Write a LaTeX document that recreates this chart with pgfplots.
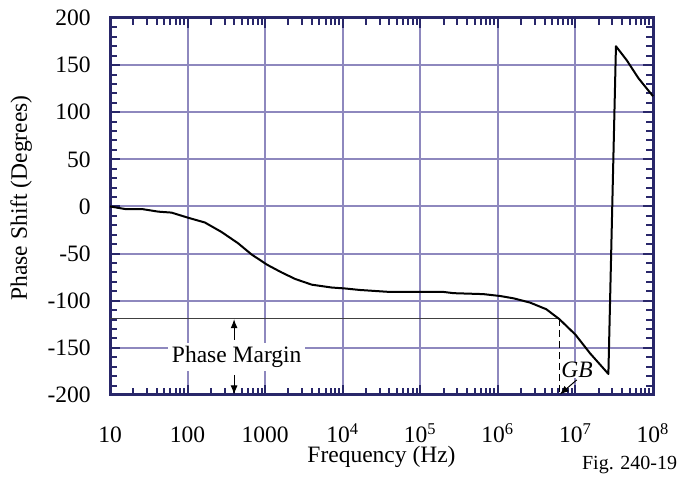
\documentclass[border=0pt]{standalone}
\usepackage{fontspec}
\setmainfont{Liberation Serif}
\usepackage{pgfplots}
\pgfplotsset{compat=1.18}
\usetikzlibrary{arrows.meta}
\definecolor{gridPurple}{HTML}{8E88BE}
\definecolor{axisNavy}{HTML}{29276A}

\begin{document}
\fontsize{11.75}{14}\selectfont
\begin{tikzpicture}
\begin{axis}[
  xmode=log,
  scale only axis,
  width=271.5pt, height=188.5pt,
  xmin=10, xmax=1e8, ymin=-200, ymax=200,
  xtick={10,100,1000,1e4,1e5,1e6,1e7,1e8},
  xticklabels={10,100,1000,10\textsuperscript{4},10\textsuperscript{5},10\textsuperscript{6},10\textsuperscript{7},10\textsuperscript{8}},
  minor xtick={20,30,40,50,60,70,80,90,
    200,300,400,500,600,700,800,900,
    2e3,3e3,4e3,5e3,6e3,7e3,8e3,9e3,
    2e4,3e4,4e4,5e4,6e4,7e4,8e4,9e4,
    2e5,3e5,4e5,5e5,6e5,7e5,8e5,9e5,
    2e6,3e6,4e6,5e6,6e6,7e6,8e6,9e6,
    2e7,3e7,4e7,5e7,6e7,7e7,8e7,9e7},
  ytick={-200,-150,-100,-50,0,50,100,150,200},
  yticklabels={-200,-150,-100,-50,0,50,100,150,200},
  minor y tick num=4,
  grid=major,
  major grid style={draw=gridPurple, line width=1pt},
  axis line style={draw=axisNavy, line width=1.5pt},
  tick style={draw=axisNavy, line width=1pt},
  major tick length=5pt, minor tick length=3.5pt,
  tick align=inside,
  xticklabel style={anchor=base, yshift=-24pt, inner sep=0pt},
  yticklabel style={anchor=east, xshift=-9.5pt, inner sep=0pt},
  clip=false,
]
% phase margin reference level
\addplot[black!75, line width=0.5pt] coordinates {(10,-119.4) (6.2e6,-119.4)};

\addplot[black, line width=1pt, line join=round] coordinates {
  (10,0) (15.6,-2.7) (25.6,-2.7) (42,-5.5) (62,-6.5) (102,-12)
  (167,-17) (273,-27) (447,-39) (670,-51) (1070,-62) (1630,-70)
  (2450,-77) (4000,-83) (7200,-86) (10700,-87) (16600,-88.6)
  (40500,-90.7) (2e5,-90.7) (2.7e5,-92) (6.5e5,-93) (1.07e6,-95)
  (1.6e6,-97.5) (2.6e6,-102) (4.2e6,-109) (6.2e6,-119.5) (1e7,-136)
  (1.55e7,-156) (2.66e7,-177.7) (3.33e7,170) (4.6e7,155) (6.5e7,136)
  (1e8,117)
};

\node[fill=white, inner xsep=2pt, inner ysep=1.7pt] at (axis cs:430,-159.7) {Phase Margin};
\draw[-{Latex[length=4.5pt,width=3.5pt]}, line width=0.5pt] (axis cs:398,-141.6) -- (axis cs:398,-119.6);
\draw[-{Latex[length=4.5pt,width=3.5pt]}, line width=0.5pt] (axis cs:398,-178.8) -- (axis cs:398,-199.5);

\node[fill=white, inner sep=0.3pt, font=\itshape] at (axis cs:1.05e7,-173.5) {GB};
\addplot[black, line width=0.5pt, dash pattern=on 3.5pt off 2pt] coordinates {(6.2e6,-119.4) (6.2e6,-200)};
\draw[-{Latex[length=4.5pt,width=3.5pt]}, line width=0.5pt] (axis cs:1.04e7,-184) -- (axis cs:6.3e6,-199.5);

\node[anchor=base, inner sep=0pt] at (rel axis cs:0.5,-0.1804) {Frequency (Hz)};
\node[rotate=90, anchor=center, inner sep=0pt] at (rel axis cs:-0.1639,0.5225) {Phase Shift (Degrees)};
\node[anchor=base west, inner sep=0pt, font=\fontsize{10}{12}\selectfont] at (rel axis cs:0.8687,-0.1989) {Fig. 240-19};

\coordinate (bbSW) at (rel axis cs:-0.2026,-0.2175);
\coordinate (bbNE) at (rel axis cs:1.0571,1.0477);
\end{axis}
\pgfresetboundingbox
\path (bbSW) rectangle (bbNE);
\end{tikzpicture}
\end{document}
